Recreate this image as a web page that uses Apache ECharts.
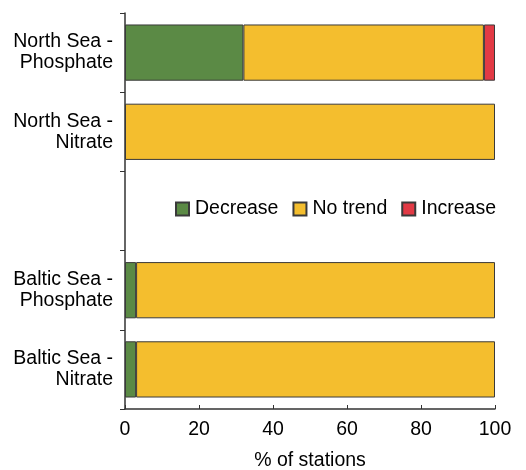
<!DOCTYPE html>
<html>
<head>
<meta charset="utf-8">
<script src="https://cdn.jsdelivr.net/npm/echarts@6/dist/echarts.min.js"></script>
<style>
  html, body { margin: 0; padding: 0; background: #fff; }
  #chart { width: 526px; height: 470px; }
</style>
</head>
<body>
<div id="chart"></div>
<script>
// categories top to bottom, the empty one is the gap holding the legend
const categories = ['North Sea -\nPhosphate', 'North Sea -\nNitrate', '', 'Baltic Sea -\nPhosphate', 'Baltic Sea -\nNitrate'];
const decrease = [32, null, null, 3, 3];
const noTrend = [65, 100, null, 97, 97];
const increase = [3, null, null, null, null];
const xTicks = [0, 20, 40, 60, 80, 100];

const font = "'Liberation Sans', Arial, sans-serif";
const fs = 19.5;
const border = { borderColor: '#3a3a3a', borderWidth: 1 };

function bar(name, data, color) {
    return {
        name: name,
        type: 'bar',
        stack: 'all',
        data: data,
        barWidth: '71%',
        itemStyle: Object.assign({ color: color }, border)
    };
}

const chart = echarts.init(document.getElementById('chart'));
chart.setOption({
    animation: false,
    textStyle: { fontFamily: font },
    grid: { left: 125, right: 31, top: 13, bottom: 61, containLabel: false, outerBoundsMode: 'none' },
    legend: {
        left: 170,
        top: 194,
        itemWidth: 13,
        itemHeight: 13,
        itemGap: 14,
        icon: 'rect',
        textStyle: { fontFamily: font, fontSize: fs, color: '#000', padding: [0, 0, 0, 1] },
        data: ['Decrease', 'No trend', 'Increase']
    },
    xAxis: {
        type: 'value',
        min: xTicks[0],
        max: xTicks[xTicks.length - 1],
        interval: 20,
        name: '% of stations',
        nameLocation: 'middle',
        nameGap: 42,
        nameTextStyle: { fontFamily: font, fontSize: fs, color: '#000' },
        splitLine: { show: false },
        axisLine: { show: true, lineStyle: { color: '#333', width: 1.5 } },
        axisTick: { show: true, inside: true, length: 4, lineStyle: { color: '#333' } },
        axisLabel: { fontFamily: font, fontSize: fs, color: '#000', margin: 11 }
    },
    yAxis: {
        type: 'category',
        inverse: true,
        data: categories,
        axisLine: { show: true, lineStyle: { color: '#333', width: 1.5 } },
        axisTick: { show: true, length: 5, lineStyle: { color: '#333' } },
        axisLabel: { fontFamily: font, fontSize: fs, color: '#000', lineHeight: 21, margin: 12, align: 'right' }
    },
    series: [
        bar('Decrease', decrease, '#5b8a45'),
        bar('No trend', noTrend, '#f4be2e'),
        bar('Increase', increase, '#e23a45')
    ]
});
</script>
</body>
</html>
